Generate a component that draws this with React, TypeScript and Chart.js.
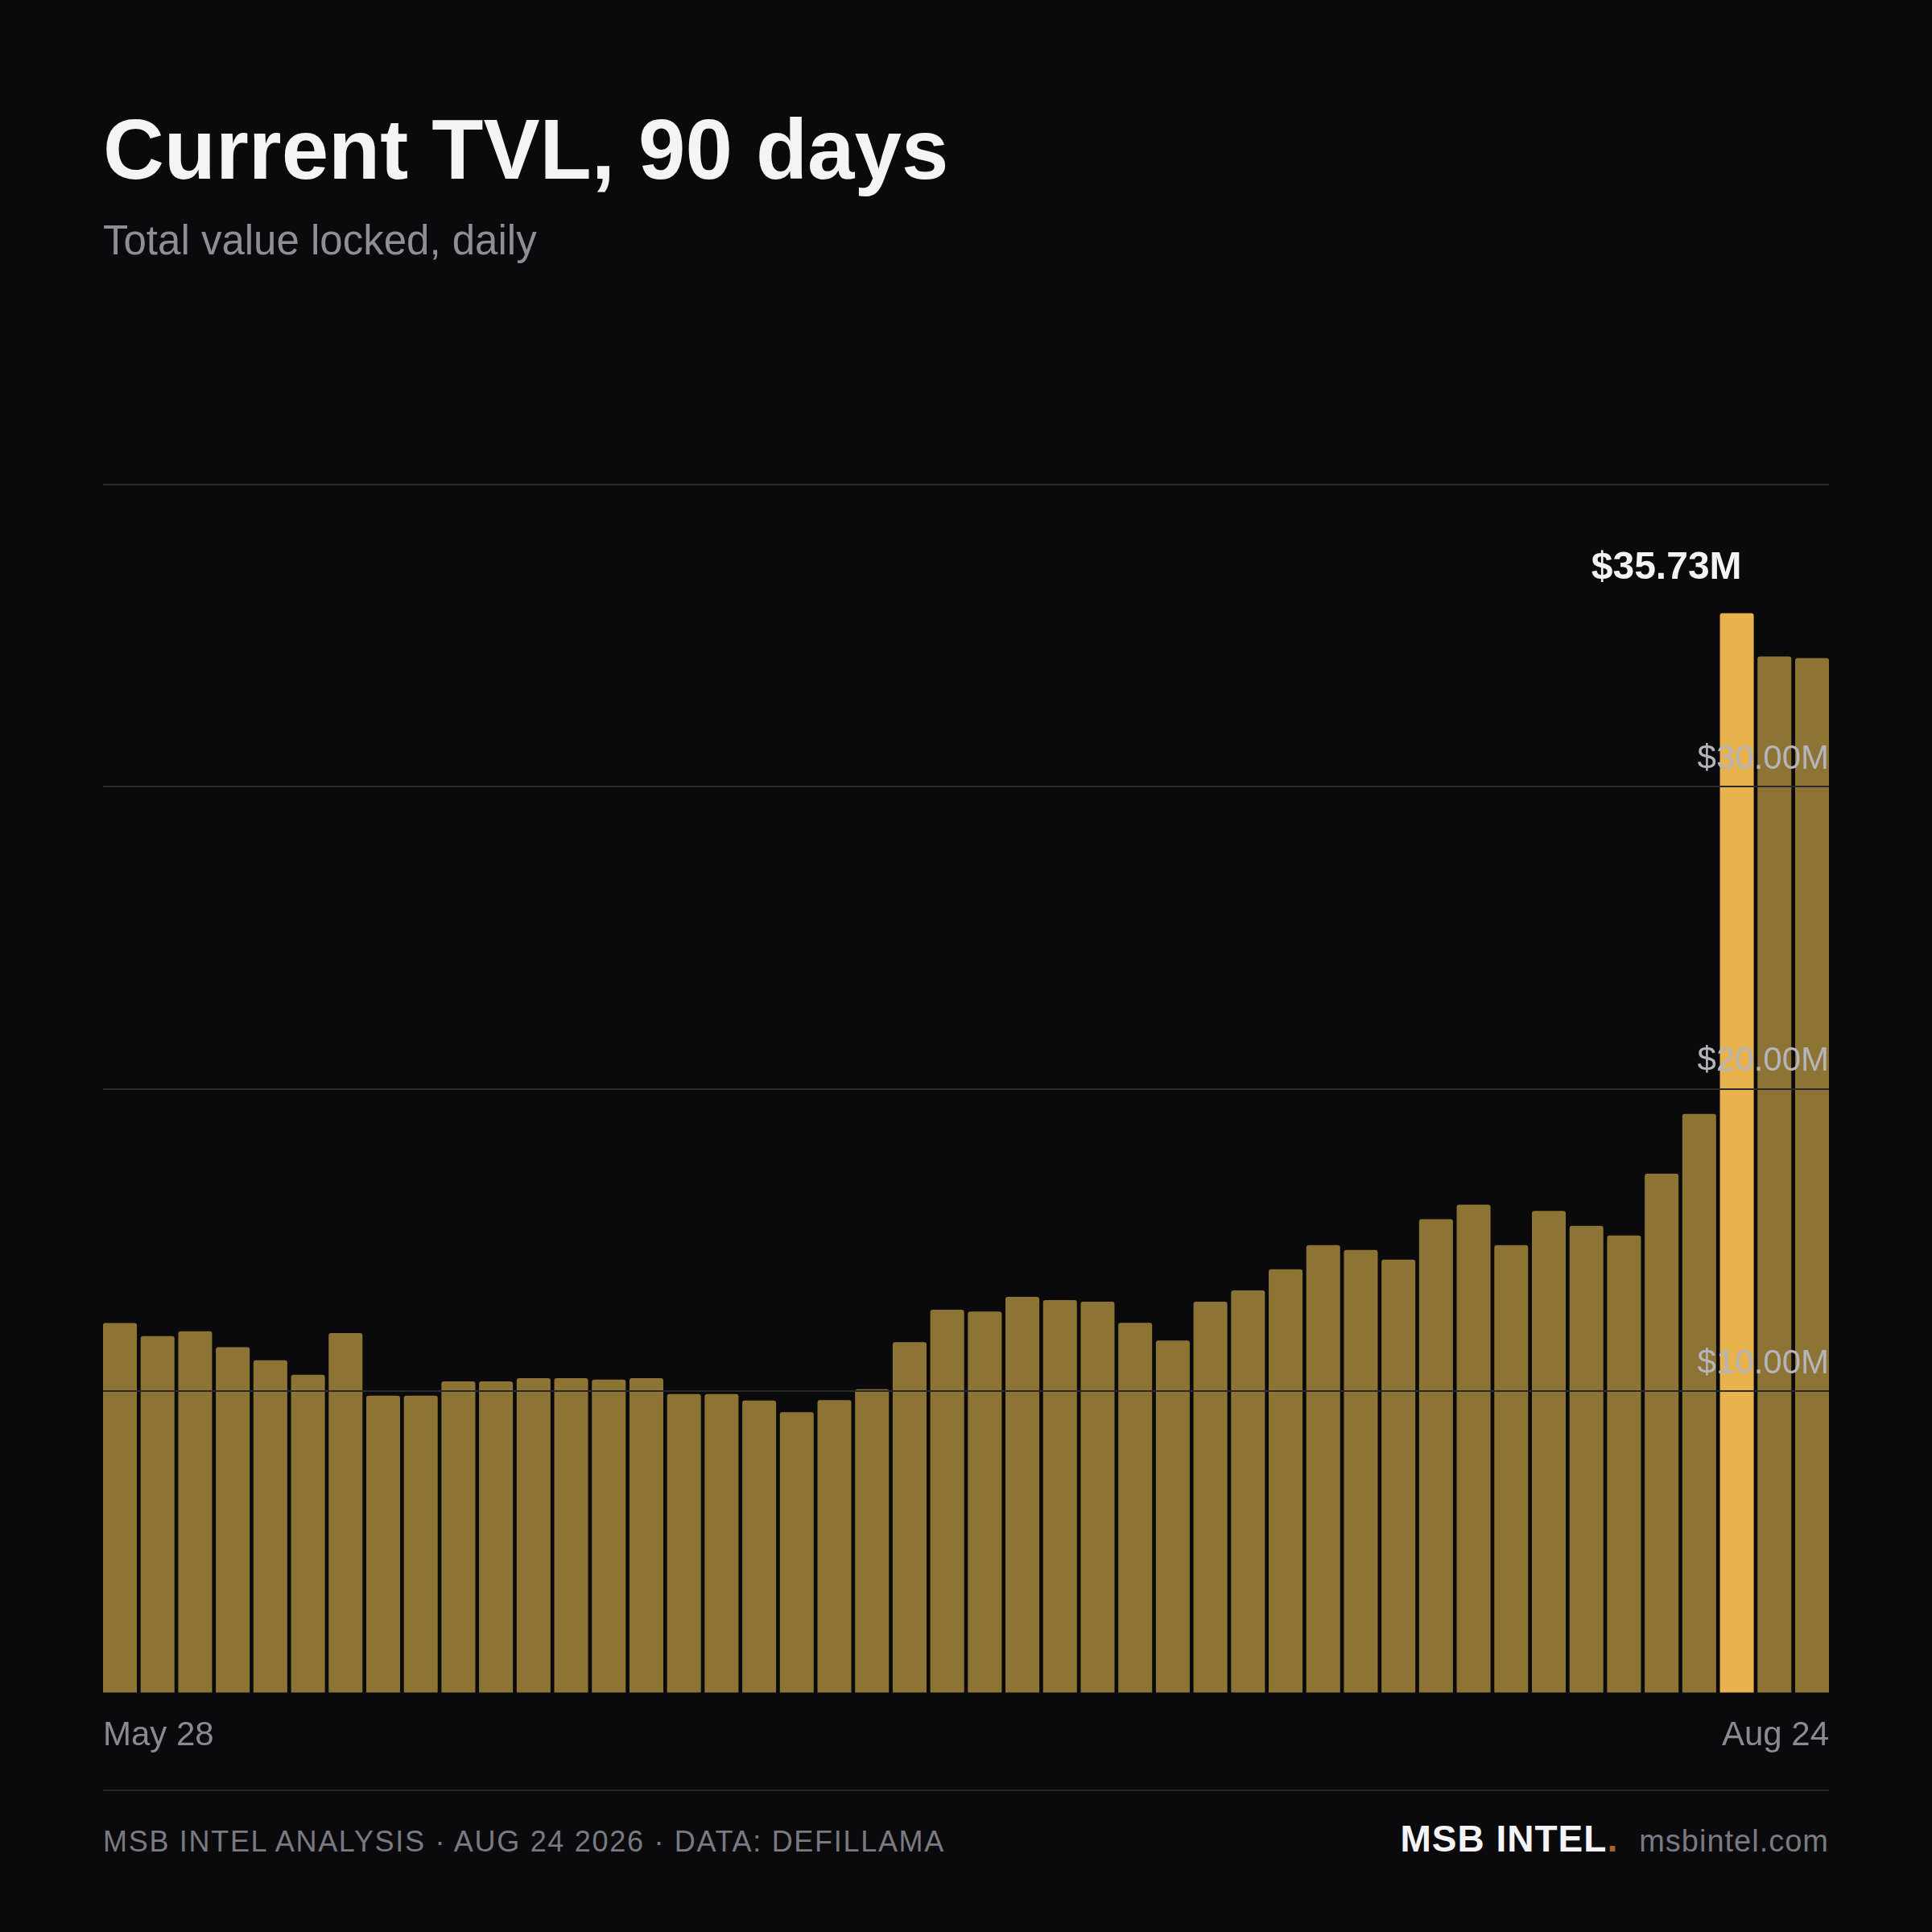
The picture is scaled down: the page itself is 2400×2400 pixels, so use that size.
import { useEffect, useRef } from "react";
import { Chart, registerables } from "chart.js";

Chart.register(...registerables);

// daily TVL in $M (one bar per sample)
const days = [
  "May 28", "May 30", "Jun 1", "Jun 3", "Jun 5", "Jun 7", "Jun 9", "Jun 11",
  "Jun 13", "Jun 15", "Jun 17", "Jun 19", "Jun 21", "Jun 23", "Jun 25", "Jun 27",
  "Jun 29", "Jul 1", "Jul 3", "Jul 5", "Jul 7", "Jul 9", "Jul 11", "Jul 13",
  "Jul 15", "Jul 17", "Jul 19", "Jul 21", "Jul 23", "Jul 25", "Jul 27", "Jul 29",
  "Jul 31", "Aug 2", "Aug 4", "Aug 6", "Aug 8", "Aug 10", "Aug 12", "Aug 14",
  "Aug 16", "Aug 18", "Aug 20", "Aug 22", "Aug 23", "Aug 24",
];
const tvl = [
  12.25, 11.82, 11.98, 11.45, 11.02, 10.54, 11.92, 9.85, 9.85, 10.32,
  10.32, 10.43, 10.43, 10.38, 10.43, 9.9, 9.9, 9.69, 9.3, 9.7,
  10.06, 11.62, 12.69, 12.63, 13.12, 13.01, 12.96, 12.26, 11.67, 12.96,
  13.33, 14.03, 14.83, 14.67, 14.35, 15.69, 16.17, 14.83, 15.96, 15.47,
  15.15, 17.19, 19.17, 35.73, 34.3, 34.25,
];
const edgeTicks = ["May 28", "Aug 24"];
const yTicks = [10, 20, 30];

const FONT = '"Liberation Sans", Arial, Helvetica, sans-serif';
const BG = "#0a0a0c";
const BAR = "#8e7434";
const PEAK = "#e8b24c";
const GRID = "#2a2a2e";
const BAR_PCT = 0.9;

const peakIndex = tvl.indexOf(Math.max(...tvl));

const zeroPadding = (scale: any) => {
  scale.paddingTop = 0;
  scale.paddingBottom = 0;
  scale.paddingLeft = 0;
  scale.paddingRight = 0;
};

const peakLabel = {
  id: "peakLabel",
  afterDraw(chart: Chart) {
    const bar: any = chart.getDatasetMeta(0).data[peakIndex];
    if (!bar) return;
    const ctx = chart.ctx;
    ctx.save();
    ctx.font = `bold 48px ${FONT}`;
    ctx.fillStyle = "#f4f4f6";
    ctx.textAlign = "right";
    ctx.textBaseline = "alphabetic";
    ctx.fillText(`$${tvl[peakIndex].toFixed(2)}M`, bar.x + 6, bar.y - 43);
    ctx.restore();
  },
};

function TvlChart() {
  const chartRef = useRef<HTMLCanvasElement>(null);
  const chartInstance = useRef<Chart | null>(null);

  useEffect(() => {
    if (!chartRef.current) return;
    if (chartInstance.current) chartInstance.current.destroy();
    const ctx = chartRef.current.getContext("2d");
    if (!ctx) return;

    // bars touch both edges of the plot, only inner gaps
    const edge = BAR_PCT / 2;

    chartInstance.current = new Chart(ctx, {
      type: "bar",
      data: {
        labels: days,
        datasets: [
          {
            label: "TVL",
            data: tvl.map((v, i) => ({ x: i, y: v })),
            xAxisID: "x",
            backgroundColor: tvl.map((_, i) => (i === peakIndex ? PEAK : BAR)),
            barPercentage: BAR_PCT,
            categoryPercentage: 1,
            borderRadius: 3,
            borderSkipped: "start",
          },
        ],
      },
      options: {
        responsive: true,
        maintainAspectRatio: false,
        animation: false,
        parsing: { xAxisKey: "x", yAxisKey: "y" },
        layout: { padding: { top: 41.5, left: 0, right: 0, bottom: 0 } },
        plugins: {
          legend: { display: false },
          tooltip: { enabled: false },
        },
        scales: {
          x: {
            type: "linear",
            display: false,
            offset: false,
            min: -edge,
            max: tvl.length - 1 + edge,
            grid: { display: false, offset: false },
          },
          x2: {
            type: "category",
            labels: edgeTicks,
            position: "bottom",
            offset: false,
            grid: { display: false },
            border: { display: false },
            ticks: {
              autoSkip: false,
              maxRotation: 0,
              align: "inner",
              padding: 20,
              color: "#8a8a92",
              font: { family: FONT, size: 42 },
            },
            afterFit: zeroPadding,
          },
          y: {
            position: "right",
            min: 0,
            max: 40,
            border: { display: false },
            grid: {
              z: 1,
              color: (c: any) => (c.tick && c.tick.value === 0 ? "rgba(0,0,0,0)" : GRID),
              lineWidth: 2,
              drawTicks: false,
            },
            ticks: {
              z: 1,
              stepSize: 10,
              mirror: true,
              padding: 0,
              labelOffset: -34,
              color: "#b4b4ba",
              font: { family: FONT, size: 42 },
              callback: (v: any) =>
                yTicks.includes(Number(v)) ? `$${Number(v).toFixed(2)}M` : "",
            },
            afterFit: zeroPadding,
          },
        },
      } as any,
      plugins: [peakLabel],
    });

    return () => {
      if (chartInstance.current) {
        chartInstance.current.destroy();
        chartInstance.current = null;
      }
    };
  }, []);

  return <canvas ref={chartRef} />;
}

export default function App() {
  useEffect(() => {
    document.body.style.margin = "0";
    document.body.style.background = BG;
  }, []);

  return (
    <div
      style={{
        position: "relative",
        width: 2400,
        height: 2400,
        background: BG,
        fontFamily: FONT,
        overflow: "hidden",
      }}
    >
      <div
        style={{
          position: "absolute",
          left: 128,
          top: 133,
          fontSize: 105,
          lineHeight: 1,
          fontWeight: 700,
          color: "#f4f4f6",
          whiteSpace: "nowrap",
        }}
      >
        Current TVL, 90 days
      </div>
      <div
        style={{
          position: "absolute",
          left: 128,
          top: 273,
          fontSize: 51,
          lineHeight: 1,
          color: "#8e8e96",
          whiteSpace: "nowrap",
        }}
      >
        Total value locked, daily
      </div>

      <div style={{ position: "absolute", left: 128, top: 560, width: 2144, height: 1642 }}>
        <TvlChart />
      </div>

      <div
        style={{
          position: "absolute",
          left: 128,
          top: 2223,
          width: 2144,
          height: 2,
          background: GRID,
        }}
      />
      <div
        style={{
          position: "absolute",
          left: 128,
          top: 2261,
          width: 2144,
          display: "flex",
          alignItems: "baseline",
          justifyContent: "space-between",
          lineHeight: 1,
          whiteSpace: "nowrap",
        }}
      >
        <span style={{ fontSize: 36, letterSpacing: 1.7, color: "#7a7a82" }}>
          MSB INTEL ANALYSIS · AUG 24 2026 · DATA: DEFILLAMA
        </span>
        <span style={{ display: "flex", alignItems: "baseline" }}>
          <span style={{ fontSize: 46, fontWeight: 700, letterSpacing: 1, color: "#f4f4f6" }}>
            MSB INTEL<span style={{ color: "#b0602c" }}>.</span>
          </span>
          <span style={{ fontSize: 38, letterSpacing: 1, color: "#7a7a82", marginLeft: 26 }}>
            msbintel.com
          </span>
        </span>
      </div>
    </div>
  );
}
